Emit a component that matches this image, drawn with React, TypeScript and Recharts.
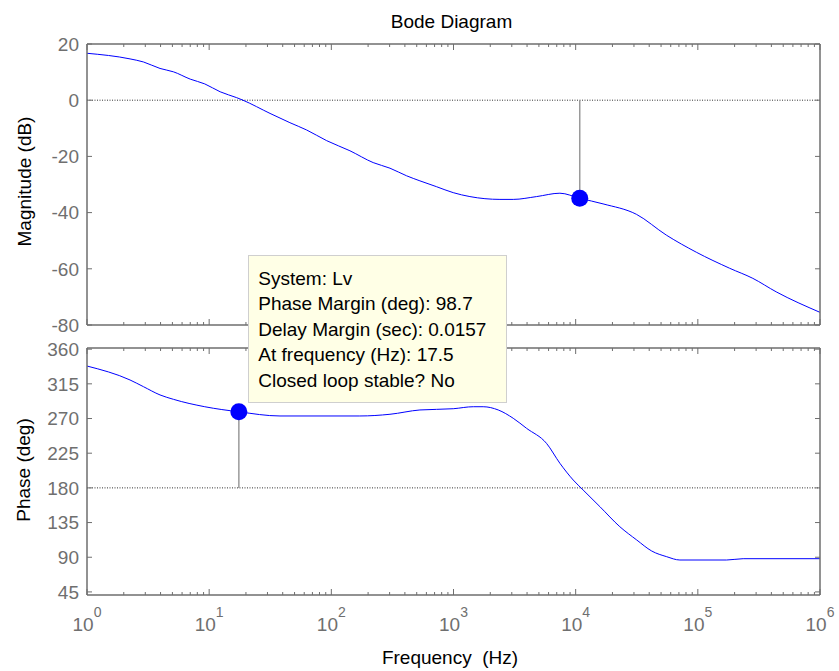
import { LineChart, Line, XAxis, YAxis, ReferenceLine, ReferenceDot } from "recharts"

// readings taken off the plot (Hz / dB / deg)
const magFreq = [1, 2.25, 2.9, 3.96, 5.1, 7, 9.2, 12.3, 16.8, 18.9, 31.5, 45.8, 62.8, 91.6, 142, 220, 302, 413, 531, 728, 995, 1362, 2399, 3083, 4786, 7430, 10800, 16750, 31400, 55200, 97200, 182000, 282000, 438000, 1000000]
const magDb = [16.7, 14.7, 13.6, 11.3, 10.1, 7.5, 5.8, 3.0, 0.9, 0, -4.7, -8.0, -10.6, -14.4, -18.0, -22.2, -24.2, -26.9, -28.7, -30.8, -32.9, -34.3, -35.3, -35.3, -34.3, -33.1, -34.9, -36.9, -40.6, -48.0, -54.1, -59.8, -63.4, -68.2, -75.5]

const phaseFreq = [1, 2.25, 2.9, 3.96, 5.1, 9.2, 17.5, 38, 171, 302, 531, 995, 1453, 1750, 2323, 3083, 3962, 5770, 7430, 9550, 11500, 15800, 23000, 31600, 41900, 55600, 71300, 172000, 235000, 1000000]
const phaseDeg = [338.1, 320, 311.3, 300.6, 294.9, 285.3, 278.7, 273.3, 273.3, 275.5, 281.1, 282.7, 285.3, 285.3, 281.1, 270.3, 257.3, 237.8, 211.9, 190.2, 177.3, 155.6, 129.6, 112.4, 98.1, 90.7, 86.4, 86.4, 88.1, 88.1]

const decades = [1, 10, 100, 1000, 10000, 100000, 1000000]
const decadeExp = ["0", "1", "2", "3", "4", "5", "6"]
const minorSteps = [1, 2, 3, 4, 5, 6, 7, 8, 9]
const magTicks = [20, 0, -20, -40, -60, -80]
const phaseTicks = [360, 315, 270, 225, 180, 135, 90, 45]

const tipLines = [
  "System: Lv",
  "Phase Margin (deg): 98.7",
  "Delay Margin (sec): 0.0157",
  "At frequency (Hz): 17.5",
  "Closed loop stable? No",
]

// margin markers
const gmFreq = 10800
const gmDb = -34.9
const pmFreq = 17.5
const pmDeg = 278.7

const freqTicks = decades.flatMap((d, i) => (i < decades.length - 1 ? minorSteps.map((m) => m * d) : [d]))

const magData = magFreq.map((f, i) => ({ f, v: magDb[i] }))
const phaseData = phaseFreq.map((f, i) => ({ f, v: phaseDeg[i] }))

const FONT = "'Liberation Sans', Arial, Helvetica, sans-serif"
const AXIS = "#6e6e6e"
const LABEL = "#6f6f6f"

function XTick(props: any) {
  const { x, y, payload, side, labels } = props
  const idx = decades.indexOf(payload.value)
  const len = idx >= 0 ? 6 : 3
  const dir = side === "top" ? 1 : -1
  return (
    <g>
      <line x1={x} x2={x} y1={y} y2={y + dir * len} stroke={AXIS} strokeWidth={1} />
      {labels && idx >= 0 && (
        <text x={x} y={y + 36} textAnchor="middle" fill={LABEL} fontFamily={FONT} fontSize={19}>
          10
          <tspan dy={-14} fontSize={14}>
            {decadeExp[idx]}
          </tspan>
        </text>
      )}
    </g>
  )
}

function YTick(props: any) {
  const { x, y, payload, side, labels } = props
  const dir = side === "left" ? 1 : -1
  return (
    <g>
      <line x1={x} x2={x + dir * 5} y1={y} y2={y} stroke={AXIS} strokeWidth={1} />
      {labels && (
        <text x={x - 8} y={y} dy="0.36em" textAnchor="end" fill={LABEL} fontFamily={FONT} fontSize={19}>
          {payload.value}
        </text>
      )}
    </g>
  )
}

function Frame({ yDomain, yTicks, showX }: { yDomain: number[]; yTicks: number[]; showX: boolean }) {
  return [
    <XAxis
      key="xb"
      dataKey="f"
      type="number"
      scale="log"
      domain={[1, 1000000]}
      allowDataOverflow
      ticks={freqTicks}
      interval={0}
      tickSize={0}
      tickMargin={0}
      tickLine={false}
      axisLine={{ stroke: AXIS, strokeWidth: 1.5 }}
      height={showX ? 76 : 15}
      tick={(p: any) => <XTick {...p} side="bottom" labels={showX} />}
    />,
    <XAxis
      key="xt"
      xAxisId="t"
      orientation="top"
      dataKey="f"
      type="number"
      scale="log"
      domain={[1, 1000000]}
      allowDataOverflow
      ticks={freqTicks}
      interval={0}
      tickSize={0}
      tickMargin={0}
      tickLine={false}
      axisLine={{ stroke: AXIS, strokeWidth: 1.5 }}
      height={8}
      tick={(p: any) => <XTick {...p} side="top" labels={false} />}
    />,
    <YAxis
      key="yl"
      type="number"
      domain={yDomain}
      allowDataOverflow
      ticks={yTicks}
      interval={0}
      tickSize={0}
      tickMargin={0}
      tickLine={false}
      axisLine={{ stroke: AXIS, strokeWidth: 1.5 }}
      width={87}
      tick={(p: any) => <YTick {...p} side="left" labels />}
    />,
    <YAxis
      key="yr"
      yAxisId="r"
      orientation="right"
      type="number"
      domain={yDomain}
      allowDataOverflow
      ticks={yTicks}
      interval={0}
      tickSize={0}
      tickMargin={0}
      tickLine={false}
      axisLine={{ stroke: AXIS, strokeWidth: 1.5 }}
      width={19}
      tick={(p: any) => <YTick {...p} side="right" labels={false} />}
    />,
  ]
}

export default function App() {
  return (
    <div style={{ position: "absolute", left: 0, top: 0, width: 839, height: 671, background: "#fff", fontFamily: FONT }}>
      <div style={{ position: "absolute", left: 0, top: 0 }}>
        <LineChart width={839} height={340} data={magData} margin={{ top: 36, right: 0, bottom: 0, left: 0 }}>
          {Frame({ yDomain: [-80, 20], yTicks: magTicks, showX: false })}
          <ReferenceLine y={0} stroke="#333" strokeDasharray="1 1.5" strokeWidth={1} />
          <ReferenceLine segment={[{ x: gmFreq, y: 0 }, { x: gmFreq, y: gmDb }]} stroke="#9a9a9a" strokeWidth={1.5} />
          <Line dataKey="v" type="monotone" stroke="#0000ff" strokeWidth={1} dot={false} isAnimationActive={false} />
          <ReferenceDot x={gmFreq} y={gmDb} r={8.5} fill="#0000ff" stroke="none" />
        </LineChart>
      </div>
      <div style={{ position: "absolute", left: 0, top: 340 }}>
        <LineChart width={839} height={331} data={phaseData} margin={{ top: 0, right: 0, bottom: 0, left: 0 }}>
          {Frame({ yDomain: [41, 361.5], yTicks: phaseTicks, showX: true })}
          <ReferenceLine y={180} stroke="#333" strokeDasharray="1 1.5" strokeWidth={1} />
          <ReferenceLine segment={[{ x: pmFreq, y: 180 }, { x: pmFreq, y: pmDeg }]} stroke="#9a9a9a" strokeWidth={1.5} />
          <Line dataKey="v" type="monotone" stroke="#0000ff" strokeWidth={1} dot={false} isAnimationActive={false} />
          <ReferenceDot x={pmFreq} y={pmDeg} r={8.5} fill="#0000ff" stroke="none" />
        </LineChart>
      </div>
      <svg width={839} height={671} style={{ position: "absolute", left: 0, top: 0, pointerEvents: "none" }}>
        <text x={451.5} y={28} textAnchor="middle" fontFamily={FONT} fontSize={19} fill="#000">
          Bode Diagram
        </text>
        <text x={31} y={181.5} transform="rotate(-90 31 181.5)" textAnchor="middle" fontFamily={FONT} fontSize={19} fill="#000">
          Magnitude (dB)
        </text>
        <text x={30} y={470} transform="rotate(-90 30 470)" textAnchor="middle" fontFamily={FONT} fontSize={19} fill="#000">
          Phase (deg)
        </text>
        <text x={450} y={664} textAnchor="middle" fontFamily={FONT} fontSize={19} fill="#000" style={{ whiteSpace: "pre" }}>
          {"Frequency  (Hz)"}
        </text>
      </svg>
      <div
        style={{
          position: "absolute",
          left: 248,
          top: 255,
          width: 259,
          height: 148,
          boxSizing: "border-box",
          background: "#ffffe6",
          border: "1px solid #cfcfcf",
          padding: "9.6px 0 0 9.3px",
          fontSize: 19,
          lineHeight: "25.5px",
          color: "#000",
          whiteSpace: "nowrap",
        }}
      >
        {tipLines.map((t) => (
          <div key={t}>{t}</div>
        ))}
      </div>
    </div>
  )
}
